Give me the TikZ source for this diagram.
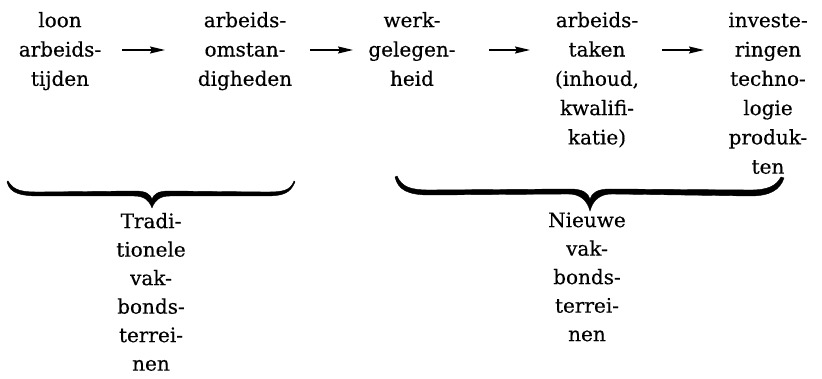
\documentclass[tikz,border=0pt]{standalone}
\usepackage{fontspec}
\setmainfont{DejaVu Serif}[FakeBold=0.4]
\usetikzlibrary{arrows.meta}
\tikzset{
  lbl/.style={align=center, inner sep=0pt, anchor=north, font=\fontsize{20}{29.3}\selectfont},
  blbl/.style={align=center, inner sep=0pt, anchor=north, font=\fontsize{20}{28.5}\selectfont},
  arr/.style={line width=1.5pt, -{Stealth[length=15pt,width=7pt,inset=2pt]}},
  bracefill/.style={fill=black, draw=black, line width=0.4pt}
}
\begin{document}
\begin{tikzpicture}[x=1pt,y=-1pt]
\useasboundingbox (0,0) rectangle (822,379);
% top row
\node[lbl] (c1) at (60,6.5) {\strut loon\\arbeids-\\tijden};
\node[lbl] (c2) at (245,6.5) {\strut arbeids-\\omstan-\\digheden};
\node[lbl] (c3) at (412,6.5) {\strut werk-\\gelegen-\\heid};
\node[lbl] (c4) at (597,6.5) {\strut arbeids-\\taken\\(inhoud,\\kwalifi-\\katie)};
\node[lbl] (c5) at (768,6.5) {\strut investe-\\ringen\\techno-\\logie\\produk-\\ten};
% arrows
\coordinate (a1s) at (122,50); \coordinate (a1e) at (165,50);
\coordinate (a2s) at (310,50); \coordinate (a2e) at (353,50);
\coordinate (a3s) at (489,50); \coordinate (a3e) at (530,50);
\coordinate (a4s) at (662,50); \coordinate (a4e) at (704,50);
\draw[arr] (a1s) -- (a1e);
\draw[arr] (a2s) -- (a2e);
\draw[arr] (a3s) -- (a3e);
\draw[arr] (a4s) -- (a4e);
% left brace
\filldraw[bracefill] (8,181) .. controls (14,191) and (22,192) .. (40,192) -- (135,191)
  .. controls (146,191) and (150,194) .. (152,199)
  .. controls (154,194) and (158,191) .. (169,191) -- (265,192)
  .. controls (283,192) and (290,191) .. (294,181)
  -- (295,182) .. controls (290,194) and (282,196) .. (265,196) -- (170,196)
  .. controls (160,196) and (155,200) .. (152,208)
  .. controls (149,200) and (144,196) .. (134,196) -- (40,196)
  .. controls (22,196) and (10,194) .. (7,182) -- cycle;
% right brace
\filldraw[bracefill] (397,176) .. controls (402,187) and (410,190) .. (430,190) -- (570,189)
  .. controls (583,189) and (588,193) .. (590,199)
  .. controls (592,193) and (597,189) .. (610,189) -- (750,190)
  .. controls (768,190) and (776,186) .. (781,177)
  -- (784,178) .. controls (780,190) and (770,196) .. (750,196) -- (612,194)
  .. controls (600,194) and (593,200) .. (590,211)
  .. controls (587,200) and (580,194) .. (568,194) -- (430,195)
  .. controls (408,195) and (398,190) .. (395,177) -- cycle;
% bottom labels
\node[blbl] (t1) at (151,208) {\strut Tradi-\\tionele\\vak-\\bonds-\\terrei-\\nen};
\node[blbl] (t2) at (587,207) {\strut Nieuwe\\vak-\\bonds-\\terrei-\\nen};
\end{tikzpicture}
\end{document}
